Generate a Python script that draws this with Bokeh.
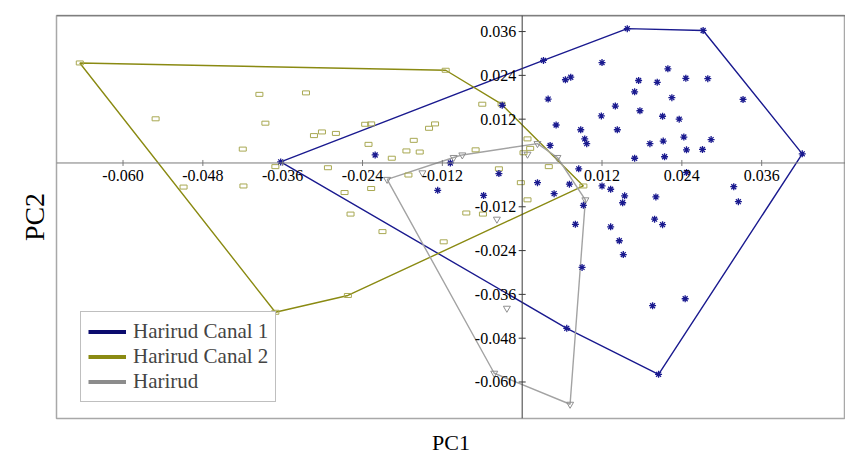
import math
from bokeh.plotting import figure
from bokeh.models import ColumnDataSource, LabelSet, Span, Legend, LegendItem, Range1d, Title
from bokeh.core.properties import value
from bokeh.embed import file_html
from bokeh.resources import INLINE

# ---------------- data ----------------
canal1_x = [-0.0363, 0.0032, 0.0158, 0.0272, 0.0421, 0.0205, 0.0067, 0.0065, 0.0073, 0.0039,
            0.0051, 0.0042, -0.0221, -0.0108, -0.0035, -0.0127, -0.0058, 0.0023, 0.0048, 0.0071,
            -0.0030, 0.0120, 0.0088, 0.0094, 0.0097, 0.0119, 0.0140, 0.0143, 0.0169, 0.0175,
            0.0177, 0.0203, 0.0219, 0.0225, 0.0211, 0.0236, 0.0246, 0.0279, 0.0332, 0.0192,
            0.0212, 0.0243, 0.0247, 0.0271, 0.0284, 0.0169, 0.0214, 0.0085, 0.0247, 0.0120,
            0.0133, 0.0154, 0.0151, 0.0201, 0.0199, 0.0211, 0.0318, 0.0325, 0.0092, 0.0080,
            0.0133, 0.0146, 0.0152, 0.0090, 0.0196, 0.0245]
canal1_y = [0.0003, 0.0281, 0.0368, 0.0363, 0.0025, -0.0579, -0.0453, 0.0228, 0.0235, 0.0175,
            0.0104, 0.0048, 0.0022, 0.0000, -0.0029, -0.0075, -0.0089, -0.0054, -0.0084, -0.0058,
            0.0158, 0.0275, 0.0091, 0.0066, 0.0053, 0.0129, 0.0156, 0.0091, 0.0195, 0.0226,
            0.0143, 0.0221, 0.0258, 0.0179, 0.0128, 0.0120, 0.0232, 0.0231, 0.0174, 0.0053,
            0.0060, 0.0071, 0.0036, 0.0037, 0.0064, 0.0013, 0.0017, -0.0016, -0.0026, -0.0063,
            -0.0072, -0.0090, -0.0109, -0.0093, -0.0154, -0.0169, -0.0065, -0.0106, -0.0116, -0.0168,
            -0.0175, -0.0213, -0.0251, -0.0286, -0.0391, -0.0372]

canal2_x = [-0.0665, -0.0115, -0.0031, 0.0092, -0.0262, -0.0371, -0.0551, -0.0395, -0.0325, -0.0386,
            -0.0420, -0.0313, -0.0301, -0.0280, -0.0371, -0.0292, -0.0509, -0.0419, -0.0267, -0.0258,
            -0.0236, -0.0227, -0.0231, -0.0196, -0.0174, -0.0163, -0.0154, -0.0140, -0.0131, -0.0070,
            0.0008, 0.0002, 0.0012, 0.0040, -0.0035, -0.0171, -0.0227, -0.0002, 0.0008, -0.0084,
            -0.0059, -0.0210, -0.0118, -0.0060]
canal2_y = [0.0274, 0.0254, 0.0161, -0.0063, -0.0363, -0.0409, 0.0121, 0.0188, 0.0192, 0.0109,
            0.0038, 0.0075, 0.0085, 0.0081, -0.0010, -0.0013, -0.0066, -0.0063, -0.0081, -0.0140,
            0.0106, 0.0107, 0.0051, 0.0013, 0.0033, 0.0062, 0.0030, 0.0095, 0.0107, 0.0036,
            0.0066, 0.0028, 0.0040, -0.0010, -0.0016, -0.0033, -0.0070, -0.0054, -0.0101, -0.0137,
            -0.0140, -0.0188, -0.0216, 0.0161]

harirud_x = [-0.0203, -0.0103, -0.0090, 0.0023, 0.0053, 0.0095, 0.0072, -0.0042, -0.0038, -0.0023,
             0.0008, -0.0150]
harirud_y = [-0.0045, 0.0015, 0.0022, 0.0053, 0.0015, -0.0101, -0.0661, -0.0576, -0.0154, -0.0398,
             0.0024, -0.0027]

series_names = ["Harirud Canal 1", "Harirud Canal 2", "Harirud"]

x_ticks = [-0.060, -0.048, -0.036, -0.024, -0.012, 0.012, 0.024, 0.036]
x_tick_labels = ["-0.060", "-0.048", "-0.036", "-0.024", "-0.012", "0.012", "0.024", "0.036"]
y_ticks = [0.036, 0.024, 0.012, -0.012, -0.024, -0.036, -0.048, -0.060]
y_tick_labels = ["0.036", "0.024", "0.012", "-0.012", "-0.024", "-0.036", "-0.048", "-0.060"]

# ---------------- helpers ----------------
def convex_hull(xs, ys):
    pts = sorted(set(zip(xs, ys)))
    def cross(o, a, b):
        return (a[0] - o[0]) * (b[1] - o[1]) - (a[1] - o[1]) * (b[0] - o[0])
    lower = []
    for q in pts:
        while len(lower) >= 2 and cross(lower[-2], lower[-1], q) <= 0:
            lower.pop()
        lower.append(q)
    upper = []
    for q in reversed(pts):
        while len(upper) >= 2 and cross(upper[-2], upper[-1], q) <= 0:
            upper.pop()
        upper.append(q)
    h = lower[:-1] + upper[:-1]
    h.append(h[0])
    return [q[0] for q in h], [q[1] for q in h]

FONT = "Liberation Serif"
BLUE = "#1a1a8f"
BLUE_LEG = "#0b0b6e"
OLIVE = "#8a8a12"
OLIVE_PT = "#a8a852"
GRAY = "#a3a3a3"
GRAY_LEG = "#8c8c8c"

p = figure(width=845, height=464,
           x_range=Range1d(-0.0700, 0.0486), y_range=Range1d(-0.0700, 0.0404),
           x_axis_location=None, y_axis_location=None,
           toolbar_location=None, output_backend="svg",
           min_border_left=56, min_border_right=0, min_border_top=15, min_border_bottom=46)
p.xgrid.visible = False
p.ygrid.visible = False
p.outline_line_color = "#a8a8a8"
p.outline_line_width = 1.5

# darker top edge of the plot box
p.add_layout(Span(location=p.y_range.end, dimension="width", line_color="#555555", line_width=1.5))

# axes through the origin
p.add_layout(Span(location=0, dimension="width", line_color="#7a7a7a", line_width=1))
p.add_layout(Span(location=0, dimension="height", line_color="#3a3a3a", line_width=1))

# hulls
for xs, ys, col in [(canal1_x, canal1_y, BLUE), (canal2_x, canal2_y, OLIVE), (harirud_x, harirud_y, GRAY)]:
    hx, hy = convex_hull(xs, ys)
    p.line(hx, hy, line_color=col, line_width=1.4)

# points
p.scatter(harirud_x, harirud_y, marker="inverted_triangle", size=7, fill_color=None,
          line_color="#8f8f8f", line_width=1)
p.rect(canal2_x, canal2_y, width=7, height=4, width_units="screen", height_units="screen",
       fill_color=None, line_color=OLIVE_PT, line_width=1)
p.scatter(canal1_x, canal1_y, marker="asterisk", size=7, line_color=BLUE, line_width=1.3)

# ticks
p.scatter(x_ticks, [0] * len(x_ticks), marker="dash", angle=math.pi / 2, size=6, line_color="#7a7a7a")
p.scatter([0] * len(y_ticks), y_ticks, marker="dash", size=7, line_color="#3a3a3a")

xsrc = ColumnDataSource(dict(x=x_ticks, y=[0] * len(x_ticks), t=x_tick_labels))
ysrc = ColumnDataSource(dict(x=[0] * len(y_ticks), y=y_ticks, t=y_tick_labels))
p.add_layout(LabelSet(x="x", y="y", text="t", source=xsrc, text_align="center", text_baseline="top",
                      y_offset=-7, text_font=value(FONT), text_font_size="16px", text_color="black"))
p.add_layout(LabelSet(x="x", y="y", text="t", source=ysrc, text_align="right", text_baseline="middle",
                      x_offset=-6, text_font=value(FONT), text_font_size="16px", text_color="black"))

# axis titles
p.add_layout(Title(text="PC1", align="center", text_font=FONT, text_font_size="22px",
                   text_font_style="normal", text_color="black", standoff=18), "below")
p.add_layout(Title(text="PC2", align="center", text_font=FONT, text_font_size="28px",
                   text_font_style="normal", text_color="black", standoff=14), "left")

# legend (proxy renderers carry the thick legend lines)
leg_cols = [BLUE_LEG, OLIVE, GRAY_LEG]
items = []
for name, col in zip(series_names, leg_cols):
    r = p.line([float("nan")], [float("nan")], line_color=col, line_width=4)
    items.append(LegendItem(label=name, renderers=[r]))
legend = Legend(items=items, location=(24, 16), label_text_font=FONT, label_text_font_size="21px",
                glyph_width=38, glyph_height=25, label_height=25, spacing=0, padding=7, margin=0,
                label_standoff=7, border_line_color="#7f7f7f", border_line_width=1,
                background_fill_color="white", background_fill_alpha=1)
p.add_layout(legend)

open("out.html", "w").write(file_html(p, INLINE))
